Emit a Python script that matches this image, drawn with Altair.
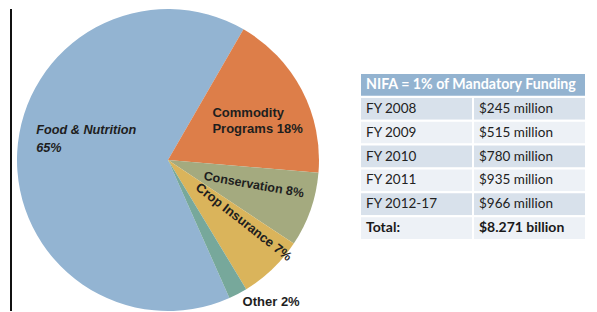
import math
import altair as alt
import pandas as pd

# ---------------- data ----------------
categories = ["Food & Nutrition", "Commodity Programs", "Conservation", "Crop Insurance", "Other"]
shares = [65, 18, 8, 7, 2]
slice_labels = ["Food & Nutrition\n65%", "Commodity\nPrograms 18%", "Conservation 8%",
                "Crop Insurance 7%", "Other 2%"]
slice_colors = ["#93b4d2", "#dd7e49", "#a4aa7f", "#dab45b", "#77a89b"]

table_title = "NIFA = 1% of Mandatory Funding"
fiscal_years = ["FY 2008", "FY 2009", "FY 2010", "FY 2011", "FY 2012-17", "Total:"]
amounts = ["$245 million", "$515 million", "$780 million", "$935 million",
           "$966 million", "$8.271 billion"]
row_fills = ["#d8e1eb", "#edf1f6"]
header_fill = "#93b3d0"

# ---------------- pie ----------------
pie_df = pd.DataFrame({
    "idx": list(range(len(categories))),
    "category": categories,
    "share": shares,
    "label": slice_labels,
})

start = math.radians(156)
theta_scale = alt.Scale(domain=[0, 100], range=[start, start + 2 * math.pi])
color_scale = alt.Scale(domain=categories, range=slice_colors)

arcs = alt.Chart(pie_df).mark_arc(outerRadius=151).encode(
    theta=alt.Theta("share:Q", stack=True, scale=theta_scale),
    color=alt.Color("category:N", scale=color_scale, legend=None),
    order=alt.Order("idx:Q"),
)

lbl_base = alt.Chart(pie_df).transform_window(
    cum="sum(share)", sort=[alt.SortField("idx")], frame=[None, 0]
).transform_calculate(mid="datum.cum - datum.share / 2")


def slice_label(cat, radius, dx=0, dy=0, angle=0, align="center", style="normal",
                size=13, line_height=17, weight="bold"):
    return lbl_base.transform_filter(alt.datum.category == cat).mark_text(
        radius=radius, dx=dx, dy=dy, angle=angle, align=align, baseline="middle",
        lineBreak="\n", font="Liberation Sans", fontSize=size, fontWeight=weight,
        fontStyle=style, color="#1e1e1e", lineHeight=line_height,
    ).encode(
        theta=alt.Theta("mid:Q", scale=theta_scale, stack=False),
        text="label:N",
    )


labels = [
    slice_label("Food & Nutrition", 132, dx=0, dy=-23, align="left", style="italic",
                size=12.7, line_height=18),
    slice_label("Commodity Programs", 84, dx=-30, dy=-8, align="left", line_height=16),
    slice_label("Conservation", 90, dy=-5, angle=10, size=12.5),
    slice_label("Crop Insurance", 101, dx=-2, dy=-12, angle=38),
    slice_label("Other", 160, dx=29, size=13, weight=900),
]

edge = alt.Chart(pd.DataFrame({"k": [0]})).mark_rule(color="#111111", strokeWidth=2).encode(
    x=alt.value(3), y=alt.value(0), y2=alt.value(302)
)

pie = alt.layer(arcs, *labels, edge).resolve_scale(theta="independent").properties(
    width=320, height=302
)

# ---------------- table ----------------
cells = []
for r, (fy, amt) in enumerate(zip(fiscal_years, amounts), start=1):
    for c, txt in enumerate([fy, amt]):
        cells.append({"x0": c, "x1": c + 1, "y0": r, "y1": r + 1, "ym": r + 0.5,
                      "text": txt, "shade": "a" if r % 2 == 1 else "b",
                      "total": r == len(fiscal_years)})
cells_df = pd.DataFrame(cells)
header_df = pd.DataFrame([{"x0": 0, "x1": 2, "y0": 0, "y1": 1, "ym": 0.5, "text": table_title}])

xs = alt.Scale(domain=[0, 2], range=[32, 258])
ys = alt.Scale(domain=[0, 7], range=[64, 231])

cell_rects = alt.Chart(cells_df).mark_rect(stroke="white", strokeWidth=2).encode(
    x=alt.X("x0:Q", scale=xs, axis=None), x2="x1:Q",
    y=alt.Y("y0:Q", scale=ys, axis=None), y2="y1:Q",
    color=alt.Color("shade:N", scale=alt.Scale(domain=["a", "b"], range=row_fills), legend=None),
)
header_rect = alt.Chart(header_df).mark_rect(stroke="white", strokeWidth=2, color=header_fill).encode(
    x=alt.X("x0:Q", scale=xs, axis=None), x2="x1:Q",
    y=alt.Y("y0:Q", scale=ys, axis=None), y2="y1:Q",
)
header_text = alt.Chart(header_df).mark_text(
    align="left", baseline="middle", dx=6, font="Lato", fontSize=14.2, fontWeight="bold",
    color="white",
).encode(
    x=alt.X("x0:Q", scale=xs, axis=None), y=alt.Y("ym:Q", scale=ys, axis=None), text="text:N"
)
body_text = alt.Chart(cells_df).transform_filter("!datum.total").mark_text(
    align="left", baseline="middle", dx=6, font="Lato", fontSize=13.5, color="#222222"
).encode(
    x=alt.X("x0:Q", scale=xs, axis=None), y=alt.Y("ym:Q", scale=ys, axis=None), text="text:N"
)
total_text = alt.Chart(cells_df).transform_filter("datum.total").mark_text(
    align="left", baseline="middle", dx=6, font="Lato", fontSize=14, fontWeight="bold", color="#1a1a1a"
).encode(
    x=alt.X("x0:Q", scale=xs, axis=None), y=alt.Y("ym:Q", scale=ys, axis=None), text="text:N"
)

table = alt.layer(cell_rects, header_rect, header_text, body_text, total_text).resolve_scale(
    color="independent"
).properties(width=261, height=302)

chart = alt.hconcat(pie, table, spacing=0).configure_view(stroke=None).properties(
    padding=0, background="white"
)

chart.save("out.html", embed_options={"renderer": "svg", "actions": False})
